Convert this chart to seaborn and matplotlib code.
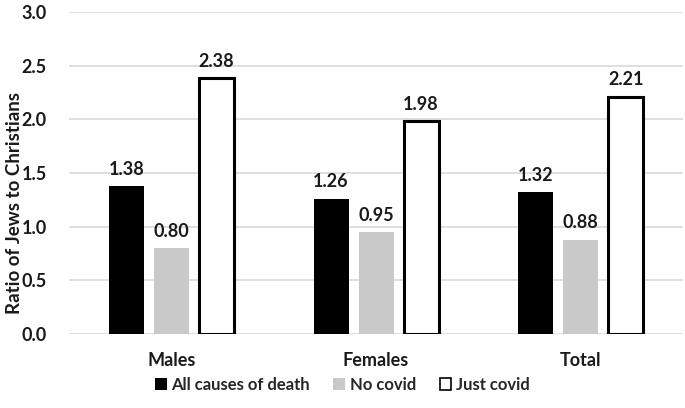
import matplotlib
matplotlib.use('Agg')
import matplotlib.pyplot as plt
import pandas as pd
import seaborn as sns
from matplotlib.patches import Patch

groups = ['Males', 'Females', 'Total']
series = ['All causes of death', 'No covid', 'Just covid']
all_causes = [1.38, 1.26, 1.32]
no_covid = [0.80, 0.95, 0.88]
just_covid = [2.38, 1.98, 2.21]
y_ticks = [0.0, 0.5, 1.0, 1.5, 2.0, 2.5, 3.0]

sns.set_theme(style='white')
plt.rcParams['font.family'] = ['Lato', 'DejaVu Sans']
plt.rcParams['font.weight'] = 'bold'

rows = []
for s, vals in zip(series, [all_causes, no_covid, just_covid]):
    for g, v in zip(groups, vals):
        rows.append({'group': g, 'series': s, 'value': v})
df = pd.DataFrame(rows)

fs = 13
fig, ax = plt.subplots(figsize=(6.85, 4.08), dpi=100)
fig.subplots_adjust(left=0.101, right=0.997, top=0.971, bottom=0.181)

pal = {'All causes of death': '#000000', 'No covid': '#c9c9c9', 'Just covid': '#ffffff'}
sns.barplot(data=df, x='group', y='value', hue='series', order=groups, hue_order=series,
            palette=pal, width=0.66, gap=0.22, saturation=1, legend=False, ax=ax, zorder=3)

# outline only the "Just covid" bars
for bars, s in zip(ax.containers, series):
    for b in bars:
        if s == 'Just covid':
            b.set_edgecolor('black')
            b.set_linewidth(2.2)
        else:
            b.set_linewidth(0)
    ax.bar_label(bars, fmt='%.2f', padding=6, fontsize=fs, fontweight='bold', color='#1a1a1a')

ax.set_ylim(0, 3.0)
ax.set_xlim(-0.5, 2.5)
ax.set_yticks(y_ticks)
ax.set_yticklabels(['%.1f' % t for t in y_ticks])
ax.yaxis.grid(True, color='#d9d9d9', linewidth=1.2, zorder=0)
ax.set_axisbelow(True)
for sp in ax.spines.values():
    sp.set_visible(False)
ax.tick_params(axis='both', length=0, labelsize=fs, colors='#1a1a1a')
ax.tick_params(axis='x', pad=13)
ax.tick_params(axis='y', pad=16)
for lab in ax.get_xticklabels() + ax.get_yticklabels():
    lab.set_fontweight('bold')
ax.set_xlabel('')
ax.set_ylabel('')
fig.text(15 / 685, 1 - 203 / 408, 'Ratio of Jews to Christians', rotation=90, ha='center', va='center',
         fontsize=13.5, fontweight='bold', color='#1a1a1a')

handles = [Patch(facecolor=pal[s], edgecolor='black' if s == 'Just covid' else pal[s],
                 linewidth=1.2 if s == 'Just covid' else 0) for s in series]
fig.legend(handles, series, loc='lower center', bbox_to_anchor=(0.5, 0.0), ncol=3, frameon=False,
           prop={'size': 12, 'weight': 'bold'}, handlelength=0.7, handleheight=0.7,
           handletextpad=0.3, columnspacing=1.4)

fig.savefig('out.png', dpi=100)
